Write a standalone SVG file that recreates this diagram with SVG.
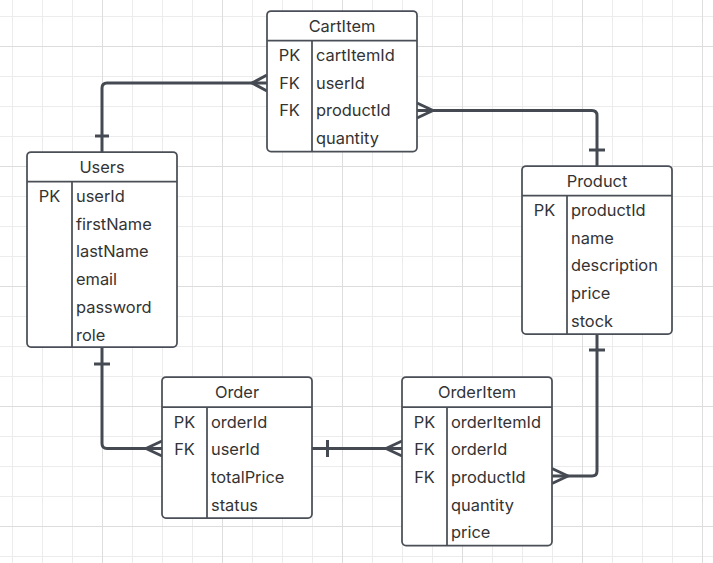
<svg xmlns="http://www.w3.org/2000/svg" width="713" height="563" viewBox="0 0 713 563">
<defs>
<pattern id="grid" patternUnits="userSpaceOnUse" x="102" y="46" width="120" height="120">
<path d="M30.5,0V120M60.5,0V120M90.5,0V120M0,30.5H120M0,60.5H120M0,90.5H120" stroke="#ececec" stroke-width="1" fill="none"/>
<path d="M0.5,0V120M0,0.5H120" stroke="#dddddd" stroke-width="1" fill="none"/>
</pattern>
<style>
.box{fill:#ffffff;stroke:#4a4f57;stroke-width:1.75}
.ln{stroke:#4a4f57;stroke-width:1.75;fill:none}
.t{font-family:Inter,"Liberation Sans",sans-serif;font-size:16.4px;fill:#333333}
.k{text-anchor:middle}
.h{text-anchor:middle}
.c{stroke:#454a52;stroke-width:3;fill:none;stroke-linejoin:round}
</style>
</defs>
<rect width="713" height="563" fill="#ffffff"/>
<rect width="713" height="563" fill="url(#grid)"/>

<g id="connectors">
<path class="c" d="M102,152V88Q102,83 107,83H267"/>
<path class="c" d="M95,136H109"/>
<path class="c" d="M267,75L252,83L267,91"/>

<path class="c" d="M417,110.5H592Q597,110.5 597,115.5V166"/>
<path class="c" d="M417,103L433,110.5L417,118"/>
<path class="c" d="M589,150H605"/>

<path class="c" d="M102,347V443.5Q102,448.5 107,448.5H162"/>
<path class="c" d="M94,364H110"/>
<path class="c" d="M162,441L146,448.5L162,456"/>

<path class="c" d="M312,448.5H402"/>
<path class="c" d="M327.5,440V457"/>
<path class="c" d="M402,441L386,448.5L402,456"/>

<path class="c" d="M597,334V471Q597,476 592,476H552"/>
<path class="c" d="M589,350H605"/>
<path class="c" d="M552,468.5L568,476L552,483.5"/>
</g>

<g id="CartItem">
<rect class="box" x="267" y="11" width="150" height="140.5" rx="4"/>
<path class="ln" d="M267,40.5H417M312,40.5V151.5"/>
<text class="t h" x="342" y="32">CartItem</text>
<text class="t k" x="289.5" y="61">PK</text>
<text class="t k" x="289.5" y="88.7">FK</text>
<text class="t k" x="289.5" y="116.4">FK</text>
<text class="t" x="316" y="61">cartItemId</text>
<text class="t" x="316" y="88.7">userId</text>
<text class="t" x="316" y="116.4">productId</text>
<text class="t" x="316" y="144.1">quantity</text>
</g>

<g id="Users">
<rect class="box" x="27" y="152" width="150" height="195" rx="4"/>
<path class="ln" d="M27,181.5H177M72,181.5V347"/>
<text class="t h" x="102" y="173">Users</text>
<text class="t k" x="49.5" y="202">PK</text>
<text class="t" x="76" y="202">userId</text>
<text class="t" x="76" y="229.7">firstName</text>
<text class="t" x="76" y="257.4">lastName</text>
<text class="t" x="76" y="285.1">email</text>
<text class="t" x="76" y="312.8">password</text>
<text class="t" x="76" y="340.5">role</text>
</g>

<g id="Product">
<rect class="box" x="522" y="166" width="150" height="168" rx="4"/>
<path class="ln" d="M522,195.5H672M567,195.5V334"/>
<text class="t h" x="597" y="187">Product</text>
<text class="t k" x="544.5" y="216">PK</text>
<text class="t" x="571" y="216">productId</text>
<text class="t" x="571" y="243.7">name</text>
<text class="t" x="571" y="271.4">description</text>
<text class="t" x="571" y="299.1">price</text>
<text class="t" x="571" y="326.8">stock</text>
</g>

<g id="Order">
<rect class="box" x="162" y="377" width="150" height="141" rx="4"/>
<path class="ln" d="M162,407H312M207,407V518"/>
<text class="t h" x="237" y="398">Order</text>
<text class="t k" x="184.5" y="427.5">PK</text>
<text class="t k" x="184.5" y="455.2">FK</text>
<text class="t" x="211" y="427.5">orderId</text>
<text class="t" x="211" y="455.2">userId</text>
<text class="t" x="211" y="482.9">totalPrice</text>
<text class="t" x="211" y="510.6">status</text>
</g>

<g id="OrderItem">
<rect class="box" x="402" y="377" width="150" height="168.5" rx="4"/>
<path class="ln" d="M402,407H552M447,407V545.5"/>
<text class="t h" x="477" y="398">OrderItem</text>
<text class="t k" x="424.5" y="427.5">PK</text>
<text class="t k" x="424.5" y="455.2">FK</text>
<text class="t k" x="424.5" y="482.9">FK</text>
<text class="t" x="451" y="427.5">orderItemId</text>
<text class="t" x="451" y="455.2">orderId</text>
<text class="t" x="451" y="482.9">productId</text>
<text class="t" x="451" y="510.6">quantity</text>
<text class="t" x="451" y="538.3">price</text>
</g>
</svg>
